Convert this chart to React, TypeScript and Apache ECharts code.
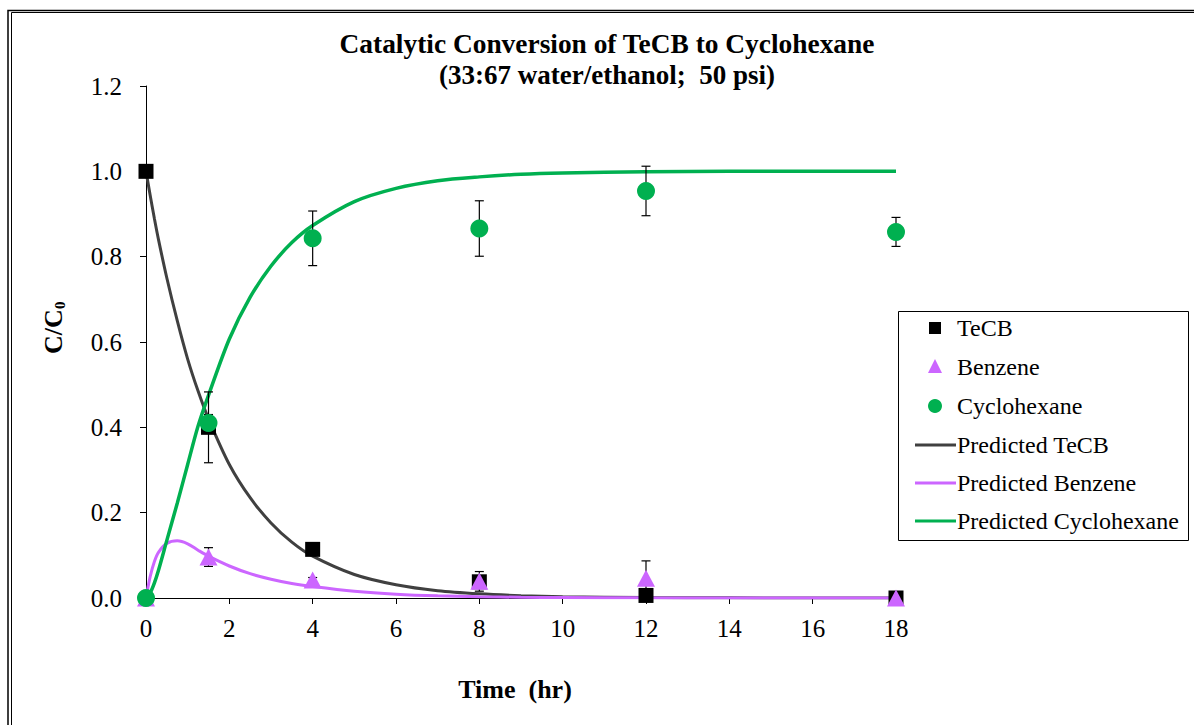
import React, { useEffect, useRef } from "react";
import * as echarts from "echarts";

// Measured data
const times = [0, 1.5, 4, 8, 12, 18];
const tecb = [1.0, 0.4, 0.114, 0.038, 0.006, 0.0];
const tecbSd = [0, 0.083, 0.008, 0.006, 0.003, 0];
const benzene = [0, 0.096, 0.042, 0.039, 0.046, 0];
const benzeneSd = [0, 0.022, 0.006, 0.023, 0.041, 0];
const cyclohexane = [0, 0.41, 0.843, 0.866, 0.954, 0.858];
const cyclohexaneSd = [0, 0.02, 0.064, 0.065, 0.058, 0.034];

// Model curves
const predTimes = [0, 0.1, 0.2, 0.3, 0.5, 0.75, 1, 1.25, 1.5, 2, 2.5, 3, 3.5, 4, 5, 6, 7, 8, 9, 10, 12, 14, 16, 18];
const predTecb = [1, 0.944, 0.89, 0.84, 0.75, 0.65, 0.56, 0.485, 0.42, 0.313, 0.235, 0.176, 0.131, 0.098, 0.055, 0.031, 0.017, 0.0097, 0.0054, 0.003, 0.001, 0.0003, 0, 0];
const predBenzene = [0, 0.05, 0.085, 0.107, 0.128, 0.134, 0.127, 0.112, 0.098, 0.075, 0.057, 0.044, 0.034, 0.027, 0.016, 0.009, 0.005, 0.003, 0.0017, 0.001, 0.0003, 0, 0, 0];
const predCyclohexane = [0, 0.012, 0.035, 0.065, 0.135, 0.222, 0.313, 0.403, 0.475, 0.607, 0.705, 0.778, 0.833, 0.873, 0.929, 0.96, 0.978, 0.987, 0.993, 0.996, 0.999, 1.0, 1.0, 1.0];

const xTicks = [0, 2, 4, 6, 8, 10, 12, 14, 16, 18];
const yTicks = [0, 0.2, 0.4, 0.6, 0.8, 1.0, 1.2];

const titleLines = ["Catalytic Conversion of TeCB to Cyclohexane", "(33:67 water/ethanol;  50 psi)"];
const legendNames = ["TeCB", "Benzene", "Cyclohexane", "Predicted TeCB", "Predicted Benzene", "Predicted Cyclohexane"];

const FONT = "'Liberation Serif', 'Times New Roman', serif";
const BLACK = "#000000";
const PURPLE = "#CC66FF";
const GREEN = "#00B050";
const GRAY = "#404040";

const pairs = (xs: number[], ys: number[]) => xs.map((x, i) => [x, ys[i]]);
const errs = (vals: number[], sds: number[]) =>
  times
    .map((t, i) => [t, Math.max(0, vals[i] - sds[i]), vals[i] + sds[i], sds[i]])
    .filter((d) => d[3] > 0);

const errRender = (params: any, api: any) => {
  const x = api.value(0);
  const lo = api.value(1);
  const hi = api.value(2);
  const top = api.coord([x, hi]);
  const bot = api.coord([x, lo]);
  const w = 4.5;
  const style = { stroke: BLACK, lineWidth: 1.2 };
  return {
    type: "group",
    children: [
      { type: "line", shape: { x1: top[0], y1: top[1], x2: bot[0], y2: bot[1] }, style },
      { type: "line", shape: { x1: top[0] - w, y1: top[1], x2: top[0] + w, y2: top[1] }, style },
      { type: "line", shape: { x1: bot[0] - w, y1: bot[1], x2: bot[0] + w, y2: bot[1] }, style },
    ],
  };
};

// Legend drawn with graphic elements
const LEG_X = 898.5;
const LEG_Y = 311.5;
const LEG_W = 290;
const LEG_H = 229;
const legendRows = [328, 367, 406, 445, 483, 521];
const ICON_CX = 935;
const TEXT_X = 957;

const legendGraphics = () => {
  const els: any[] = [
    {
      type: "rect",
      shape: { x: LEG_X, y: LEG_Y, width: LEG_W, height: LEG_H },
      style: { fill: "#ffffff", stroke: BLACK, lineWidth: 1 },
      z: 10,
      silent: true,
    },
    {
      type: "rect",
      shape: { x: ICON_CX - 6, y: legendRows[0] - 6, width: 12, height: 12 },
      style: { fill: BLACK },
      z: 11,
    },
    {
      type: "polygon",
      shape: { points: [[ICON_CX, legendRows[1] - 8], [ICON_CX + 7, legendRows[1] + 6], [ICON_CX - 7, legendRows[1] + 6]] },
      style: { fill: PURPLE },
      z: 11,
    },
    {
      type: "circle",
      shape: { cx: ICON_CX, cy: legendRows[2], r: 7 },
      style: { fill: GREEN },
      z: 11,
    },
  ];
  const lineCols = [GRAY, PURPLE, GREEN];
  [3, 4, 5].forEach((k, j) => {
    els.push({
      type: "line",
      shape: { x1: 915, y1: legendRows[k], x2: 956, y2: legendRows[k] },
      style: { stroke: lineCols[j], lineWidth: 3 },
      z: 11,
    });
  });
  legendNames.forEach((n, i) => {
    els.push({
      type: "text",
      x: TEXT_X,
      y: legendRows[i],
      style: { text: n, fontFamily: FONT, fontSize: 24, fill: BLACK, align: "left", verticalAlign: "middle" },
      z: 11,
    });
  });
  return els;
};

export default function App() {
  const ref = useRef<HTMLDivElement>(null);
  useEffect(() => {
    document.body.style.margin = "0";
    const chart = echarts.init(ref.current!, null, { renderer: "svg" });
    const axisCommon = {
      axisLine: { show: true, lineStyle: { color: BLACK, width: 1 } },
      axisTick: { show: true, inside: false, length: 6, lineStyle: { color: BLACK, width: 1 } },
      splitLine: { show: false },
    };
    const errSeries = (vals: number[], sds: number[]) => ({
      type: "custom",
      renderItem: errRender,
      data: errs(vals, sds),
      encode: { x: 0, y: [1, 2] },
      z: 2,
      silent: true,
    });
    const lineSeries = (name: string, ys: number[], color: string, width: number) => ({
      name,
      type: "line",
      data: pairs(predTimes, ys),
      smooth: 0.3,
      symbol: "none",
      showSymbol: false,
      lineStyle: { color, width },
      itemStyle: { color },
      z: 1,
    });
    chart.setOption({
      animation: false,
      backgroundColor: "#ffffff",
      grid: { left: 146, top: 86, width: 750, height: 512, containLabel: false, outerBoundsMode: "none" },
      xAxis: {
        type: "value",
        min: xTicks[0],
        max: xTicks[xTicks.length - 1],
        interval: 2,
        ...axisCommon,
        axisLabel: { color: BLACK, fontFamily: FONT, fontSize: 25, margin: 18 },
      },
      yAxis: {
        type: "value",
        min: yTicks[0],
        max: yTicks[yTicks.length - 1],
        interval: 0.2,
        ...axisCommon,
        axisLabel: { color: BLACK, fontFamily: FONT, fontSize: 25, margin: 24, formatter: (v: number) => v.toFixed(1) },
      },
      graphic: [
        {
          type: "rect",
          shape: { x: 8, y: 10.5, width: 1300, height: 900 },
          style: { fill: "none", stroke: BLACK, lineWidth: 1.5 },
          silent: true,
        },
        {
          type: "rect",
          shape: { x: 11.5, y: 12.5, width: 1300, height: 900 },
          style: { fill: "none", stroke: BLACK, lineWidth: 1 },
          silent: true,
        },
        {
          type: "text",
          x: 607,
          y: 44,
          style: { text: titleLines[0], fontFamily: FONT, fontSize: 27.4, fontWeight: "bold", fill: BLACK, align: "center", verticalAlign: "middle" },
        },
        {
          type: "text",
          x: 607,
          y: 75,
          style: { text: titleLines[1], fontFamily: FONT, fontSize: 27, fontWeight: "bold", fill: BLACK, align: "center", verticalAlign: "middle" },
        },
        {
          type: "text",
          x: 515,
          y: 689,
          style: { text: "Time  (hr)", fontFamily: FONT, fontSize: 26, fontWeight: "bold", fill: BLACK, align: "center", verticalAlign: "middle" },
        },
        {
          type: "group",
          x: 53,
          y: 328,
          rotation: Math.PI / 2,
          children: [
            {
              type: "text",
              x: -26,
              y: 0,
              style: { text: "C/C", fontFamily: FONT, fontSize: 26, fontWeight: "bold", fill: BLACK, align: "left", verticalAlign: "middle" },
            },
            {
              type: "text",
              x: 19,
              y: 7,
              style: { text: "0", fontFamily: FONT, fontSize: 15, fontWeight: "bold", fill: BLACK, align: "left", verticalAlign: "middle" },
            },
          ],
        },
        ...legendGraphics(),
      ],
      series: [
        lineSeries(legendNames[3], predTecb, GRAY, 3),
        lineSeries(legendNames[4], predBenzene, PURPLE, 3),
        lineSeries(legendNames[5], predCyclohexane, GREEN, 3.5),
        errSeries(tecb, tecbSd),
        errSeries(benzene, benzeneSd),
        errSeries(cyclohexane, cyclohexaneSd),
        {
          name: legendNames[0],
          type: "scatter",
          data: pairs(times, tecb),
          symbol: "rect",
          symbolSize: 15,
          itemStyle: { color: BLACK, opacity: 1 },
          z: 3,
        },
        {
          name: legendNames[1],
          type: "scatter",
          data: pairs(times, benzene),
          symbol: "triangle",
          symbolSize: [18, 17],
          itemStyle: { color: PURPLE, opacity: 1 },
          z: 3,
        },
        {
          name: legendNames[2],
          type: "scatter",
          data: pairs(times, cyclohexane),
          symbol: "circle",
          symbolSize: 18,
          itemStyle: { color: GREEN, opacity: 1 },
          z: 3,
        },
      ],
    });
    return () => chart.dispose();
  }, []);
  return <div ref={ref} style={{ width: 1194, height: 725 }} />;
}
